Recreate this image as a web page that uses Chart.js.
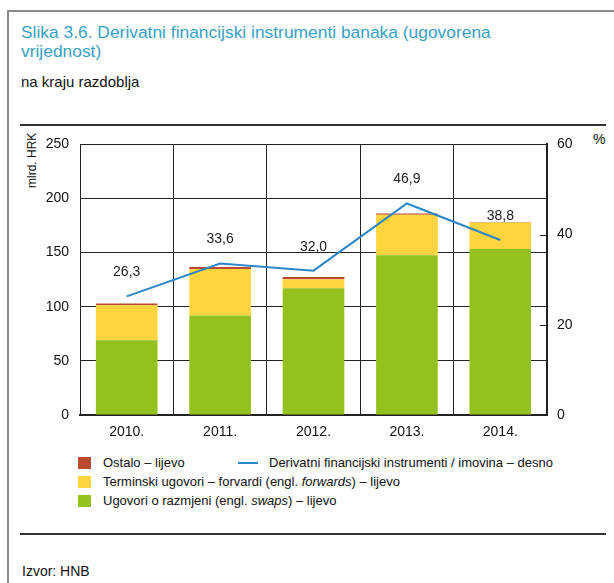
<!DOCTYPE html>
<html>
<head>
<meta charset="utf-8">
<script src="https://cdn.jsdelivr.net/npm/chart.js@4"></script>
<style>
    body { margin: 0; background: #fff; font-family: "Liberation Sans", Arial, sans-serif; }
    #okvir { position: relative; width: 614px; height: 583px; overflow: hidden; }
    .rub-gore { position: absolute; left: 7px; top: 10px; width: 607px; height: 2px; background: #8a8a8a; }
    .rub-lijevo { position: absolute; left: 7px; top: 10px; width: 2px; height: 573px; background: #8a8a8a; }
    .naslov { position: absolute; left: 21px; top: 23px; width: 485px; color: #3aa1c6; font-size: 17.4px; line-height: 19px; }
    .podnaslov { position: absolute; left: 21px; top: 73px; font-size: 15px; color: #111; }
    .crta { position: absolute; left: 20px; width: 586px; height: 2px; background: #333; }
    .os-naslov { position: absolute; left: 25px; top: 188px; font-size: 12px; color: #111; transform: rotate(-90deg); transform-origin: left top; white-space: nowrap; }
    .posto { position: absolute; left: 593px; top: 131px; font-size: 14px; color: #111; }
    #grafWrap { position: absolute; left: 0; top: 125px; width: 614px; height: 325px; }
    #legenda { position: absolute; left: 78px; top: 455px; font-size: 13px; color: #111; }
    .stavka { position: absolute; white-space: nowrap; display: flex; align-items: center; }
    .kvadrat { width: 13px; height: 12px; margin-right: 12px; }
    .linija { width: 20px; height: 2px; margin-right: 11px; }
    .izvor { position: absolute; left: 22px; top: 563px; font-size: 14px; color: #111; }
</style>
</head>
<body>
<div id="okvir">
    <div class="rub-gore"></div>
    <div class="rub-lijevo"></div>
    <div class="naslov">Slika 3.6. Derivatni financijski instrumenti banaka (ugovorena vrijednost)</div>
    <div class="podnaslov">na kraju razdoblja</div>
    <div class="crta" style="top:124px"></div>
    <div class="os-naslov">mlrd. HRK</div>
    <div class="posto">%</div>
    <div id="grafWrap"><canvas id="grafikon"></canvas></div>
    <div id="legenda"></div>
    <div class="crta" style="top:533px"></div>
    <div class="izvor">Izvor: HNB</div>
</div>
<script>
// podaci
const godine = ['2010.', '2011.', '2012.', '2013.', '2014.'];
const ugovoriRazmjena = [69, 92, 117, 147.5, 153.3];
const terminskiUgovori = [32.5, 43, 8.5, 37.5, 24.5];
const ostalo = [1.5, 1.7, 2, 1.2, 0.5];
const derivatiImovina = [26.3, 33.6, 32.0, 46.9, 38.8];
const lijeviTicks = [0, 50, 100, 150, 200, 250];
const desniTicks = [0, 20, 40, 60];

const boje = {
    razmjena: '#95c11f',
    terminski: '#fed43f',
    ostalo: '#b94a31',
    linija: '#2b87c8'
};

const fontOs = { family: '"Liberation Sans", Arial, sans-serif', size: 14 };

// oznake vrijednosti iznad linije i unutarnje crtice na desnoj osi
const dodatak = {
    id: 'dodatak',
    afterDatasetsDraw(chart) {
        const ctx = chart.ctx;
        const meta = chart.getDatasetMeta(0);
        ctx.save();
        ctx.font = '14px "Liberation Sans", Arial, sans-serif';
        ctx.fillStyle = '#222';
        ctx.textAlign = 'center';
        ctx.textBaseline = 'bottom';
        meta.data.forEach((p, i) => {
            ctx.fillText(derivatiImovina[i].toFixed(1).replace('.', ','), p.x, p.y - 17);
        });
        const y1 = chart.scales.y1;
        const area = chart.chartArea;
        ctx.strokeStyle = '#222';
        ctx.lineWidth = 1;
        desniTicks.forEach(v => {
            const y = Math.round(y1.getPixelForValue(v)) + 0.5;
            ctx.beginPath();
            ctx.moveTo(area.right - 7, y);
            ctx.lineTo(area.right, y);
            ctx.stroke();
        });
        ctx.restore();
    }
};

const ctx = document.getElementById('grafikon').getContext('2d');
const grafikon = new Chart(ctx, {
    data: {
        labels: godine,
        datasets: [
            {
                type: 'line',
                label: 'Derivatni financijski instrumenti / imovina – desno',
                data: derivatiImovina,
                yAxisID: 'y1',
                borderColor: boje.linija,
                borderWidth: 2,
                pointRadius: 0,
                tension: 0,
                order: 0
            },
            {
                type: 'bar',
                label: 'Ugovori o razmjeni (engl. <i>swaps</i>) – lijevo',
                data: ugovoriRazmjena,
                backgroundColor: boje.razmjena,
                stack: 's',
                order: 1
            },
            {
                type: 'bar',
                label: 'Terminski ugovori –  forvardi (engl. <i>forwards</i>) – lijevo',
                data: terminskiUgovori,
                backgroundColor: boje.terminski,
                stack: 's',
                order: 1
            },
            {
                type: 'bar',
                label: 'Ostalo – lijevo',
                data: ostalo,
                backgroundColor: boje.ostalo,
                stack: 's',
                order: 1
            }
        ]
    },
    options: {
        responsive: true,
        maintainAspectRatio: false,
        animation: false,
        categoryPercentage: 0.66,
        barPercentage: 1,
        layout: { padding: { top: 14, left: 0, right: 0, bottom: 0 } },
        plugins: {
            legend: { display: false },
            tooltip: { enabled: false }
        },
        scales: {
            x: {
                stacked: true,
                offset: true,
                grid: { offset: true, color: '#222', lineWidth: 1, drawTicks: false },
                border: { color: '#222', width: 2 },
                ticks: { color: '#111', font: fontOs, padding: 9 },
                afterFit(scale) { scale.height = 35; }
            },
            y: {
                stacked: true,
                position: 'left',
                min: 0,
                max: 250,
                afterBuildTicks(scale) { scale.ticks = lijeviTicks.map(v => ({ value: v })); },
                grid: { color: '#222', lineWidth: 1, drawTicks: false },
                border: { color: '#222', width: 1 },
                ticks: { color: '#111', font: fontOs, padding: 11 },
                afterFit(scale) { scale.width = 80; }
            },
            y1: {
                position: 'right',
                min: 0,
                max: 60,
                afterBuildTicks(scale) { scale.ticks = desniTicks.map(v => ({ value: v })); },
                grid: { drawOnChartArea: false, drawTicks: false },
                border: { color: '#222', width: 2 },
                ticks: { color: '#111', font: fontOs, padding: 10 },
                afterFit(scale) { scale.width = 67; }
            }
        }
    },
    plugins: [dodatak]
});

// legenda
const legenda = document.getElementById('legenda');
const stavke = [
    { ds: 3, x: 0, y: 0, vrsta: 'kvadrat' },
    { ds: 0, x: 160, y: 0, vrsta: 'linija' },
    { ds: 2, x: 0, y: 19, vrsta: 'kvadrat' },
    { ds: 1, x: 0, y: 38, vrsta: 'kvadrat' }
];
stavke.forEach(s => {
    const ds = grafikon.data.datasets[s.ds];
    const el = document.createElement('div');
    el.className = 'stavka';
    el.style.left = s.x + 'px';
    el.style.top = s.y + 'px';
    const boja = ds.type === 'line' ? ds.borderColor : ds.backgroundColor;
    el.innerHTML = `<span class="${s.vrsta}" style="background:${boja}"></span><span>${ds.label}</span>`;
    legenda.appendChild(el);
});
</script>
</body>
</html>
